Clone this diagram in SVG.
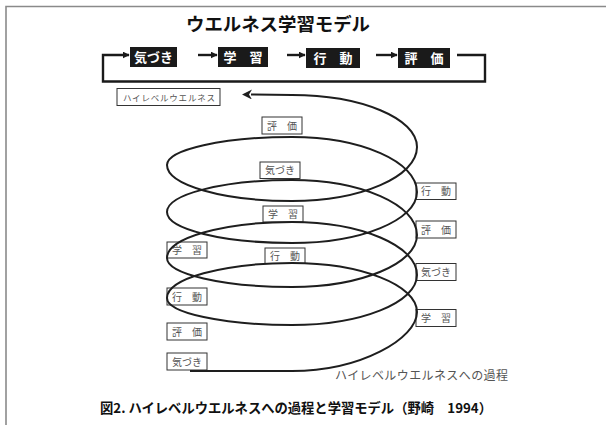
<svg xmlns="http://www.w3.org/2000/svg" width="606" height="425" viewBox="0 0 606 425">
<defs>
<style>
.frame{stroke:#8a8a8a;stroke-width:1.6;fill:none}
.flow{stroke:#1a1a1a;stroke-width:2.4;fill:none}
.blk{fill:#1a1a1a}
.blkt{fill:#fff;font-family:"Noto Sans CJK JP","Noto Sans",sans-serif;font-weight:bold;font-size:13px;text-anchor:middle}
.box{fill:#fff;stroke:#333;stroke-width:1}
.lbl{fill:#555;font-family:"Noto Sans CJK JP","Noto Sans",sans-serif;font-size:10px;text-anchor:middle}
.spiral{stroke:#1e1e1e;stroke-width:2;fill:none}
.title{fill:#111;font-family:"Noto Sans CJK JP","Noto Sans",sans-serif;font-weight:bold}
</style>
<marker id="ah" viewBox="0 0 10 10" refX="9" refY="5" markerWidth="7" markerHeight="7" orient="auto" markerUnits="userSpaceOnUse">
<path d="M0,0 L10,5 L0,10 z" fill="#1a1a1a"/>
</marker>
<marker id="ah2" viewBox="0 0 10 10" refX="1" refY="5" markerWidth="10" markerHeight="10" orient="auto-start-reverse" markerUnits="userSpaceOnUse">
<path d="M10,5 L0,0 L3,5 L0,10 z" fill="#1e1e1e"/>
</marker>
</defs>
<rect width="606" height="425" fill="#fff"/>
<path class="frame" d="M6,425 V6.5 H606"/>

<text class="title" x="186" y="31" font-size="18" textLength="184" lengthAdjust="spacingAndGlyphs">ウエルネス学習モデル</text>

<g id="flow-nodes">
<g id="n-kizuki"><rect class="blk" x="130" y="47" width="47" height="20"/><text class="blkt" x="153.5" y="62">気づき</text></g>
<g id="n-gakushu"><rect class="blk" x="218" y="47" width="50" height="20"/><text class="blkt" x="243" y="62">学　習</text></g>
<g id="n-kodo"><rect class="blk" x="306" y="48" width="54" height="20"/><text class="blkt" x="333" y="63">行　動</text></g>
<g id="n-hyoka"><rect class="blk" x="398" y="48" width="52" height="20"/><text class="blkt" x="424" y="63">評　価</text></g>
</g>

<g id="labels">
<g id="l-high"><rect class="box" x="117" y="88.5" width="103" height="17"/><text x="123" y="100.5" font-size="8.5" fill="#555" font-family="'Noto Sans CJK JP',sans-serif" textLength="92" lengthAdjust="spacing">ハイレベルウエルネス</text></g>
<g id="l-c1"><rect class="box" x="262" y="117" width="40" height="17"/><text class="lbl" x="282" y="129.5">評　価</text></g>
<g id="l-c2"><rect class="box" x="260" y="162" width="40" height="16.5"/><text class="lbl" x="280" y="174">気づき</text></g>
<g id="l-c3"><rect class="box" x="263" y="206" width="40" height="16"/><text class="lbl" x="283" y="218">学　習</text></g>
<g id="l-c4"><rect class="box" x="265" y="248" width="40" height="15.5"/><text class="lbl" x="285" y="260">行　動</text></g>
<g id="l-l1"><rect class="box" x="167" y="242" width="40" height="16"/><text class="lbl" x="187" y="254">学　習</text></g>
<g id="l-l2"><rect class="box" x="167" y="288" width="40" height="17"/><text class="lbl" x="187" y="300.5">行　動</text></g>
<g id="l-l3"><rect class="box" x="167" y="323" width="40" height="17"/><text class="lbl" x="187" y="335.5">評　価</text></g>
<g id="l-l4"><rect class="box" x="167" y="353" width="40" height="17"/><text class="lbl" x="187" y="365.5">気づき</text></g>
<g id="l-r1"><rect class="box" x="416" y="183" width="40" height="16.5"/><text class="lbl" x="436" y="195">行　動</text></g>
<g id="l-r2"><rect class="box" x="416" y="221" width="40" height="17"/><text class="lbl" x="436" y="233.5">評　価</text></g>
<g id="l-r3"><rect class="box" x="416" y="263.5" width="40" height="17"/><text class="lbl" x="436" y="276">気づき</text></g>
<g id="l-r4"><rect class="box" x="416" y="309.5" width="40" height="17"/><text class="lbl" x="436" y="322">学　習</text></g>
</g>

<g id="connectors">
<path class="flow" d="M457,55 H485 V81.5 H103 V55 H129" marker-end="url(#ah)"/>
<path class="flow" d="M198,55 H217" marker-end="url(#ah)"/>
<path class="flow" d="M287,55 H305" marker-end="url(#ah)"/>
<path class="flow" d="M376,55 H397" marker-end="url(#ah)"/>
<path class="spiral" marker-end="url(#ah2)" d="M190,371 H292
C361,371 417,338.4 417,312
C417,284.9 361,263 292,263
C223,263 167,278.7 167,298
C167,312.9 223,325 292,325
C361,325 417,302.6 417,275
C417,245.7 361,222 292,222
C223,222 167,238.1 167,258
C167,274 223,287 292,287
C361,287 417,263.7 417,235
C417,204.6 361,180 292,180
C223,180 167,194.3 167,212
C167,229.1 223,243 292,243
C361,243 417,220.2 417,192
C417,161.6 361,137 292,137
C223,137 167,149.5 167,165
C167,184.9 223,201 292,201
C361,201 417,176.8 417,147
C417,118.3 361,95 292,95
L251,94.5"/>
</g>

<text x="335" y="380" font-size="12" fill="#555" font-family="'Noto Sans CJK JP',sans-serif" textLength="173" lengthAdjust="spacing">ハイレベルウエルネスへの過程</text>
<text class="title" x="100" y="413" font-size="13.5" textLength="392" lengthAdjust="spacingAndGlyphs">図2. ハイレベルウエルネスへの過程と学習モデル（野崎　1994）</text>
</svg>
